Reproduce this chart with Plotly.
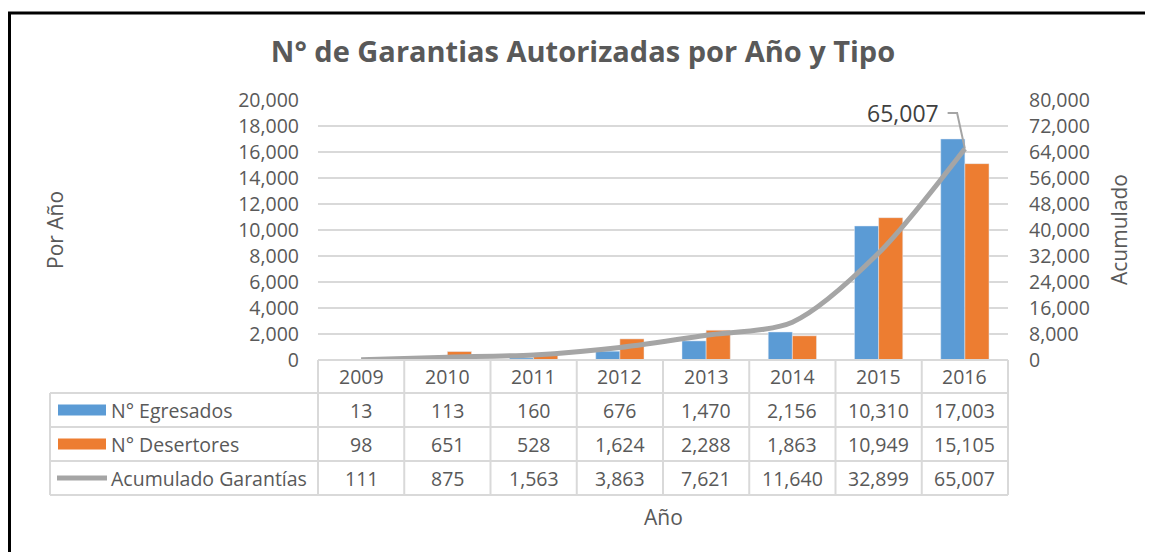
import plotly.graph_objects as go

years = ["2009", "2010", "2011", "2012", "2013", "2014", "2015", "2016"]
egresados = [13, 113, 160, 676, 1470, 2156, 10310, 17003]
desertores = [98, 651, 528, 1624, 2288, 1863, 10949, 15105]
acumulado = [111, 875, 1563, 3863, 7621, 11640, 32899, 65007]
series_names = ["N° Egresados", "N° Desertores", "Acumulado Garantías"]

BLUE = "#5B9BD5"
ORANGE = "#ED7D31"
GRAY = "#A5A5A5"
TXT = "#595959"
GRID = "#D9D9D9"
FONT = "Open Sans"

W, H = 1153, 552
OFF = 8  # page body margin
PL, PT, PW, PH = 318, 100, 690, 260  # plot area in screen pixels
L, T = PL - OFF, PT - OFF
R, B = W - L - PW, H - T - PH


def px(x):
    return (x - PL) / PW


def py(y):
    return (PT + PH - y) / PH


xs = list(range(len(years)))

fig = go.Figure()
fig.add_trace(go.Bar(x=xs, y=egresados, name=series_names[0], marker_color=BLUE))
fig.add_trace(go.Bar(x=xs, y=desertores, name=series_names[1], marker_color=ORANGE))
fig.add_trace(go.Scatter(x=xs, y=acumulado, name=series_names[2], yaxis="y2", mode="lines",
                         line=dict(color=GRAY, width=5, shape="spline", smoothing=0.8)))

shapes = []
annotations = []

row_edges = [360, 393, 427, 461, 495]
col_w = PW / len(years)
grid_line = dict(color=GRID, width=2)
TS = 19.5

for i, ye in enumerate(row_edges):
    x0 = px(318) if i == 0 else px(50)
    shapes.append(dict(type="line", xref="paper", yref="paper", x0=x0, x1=1, y0=py(ye), y1=py(ye), line=grid_line))
for j in range(len(years) + 1):
    xx = px(318 + j * col_w)
    shapes.append(dict(type="line", xref="paper", yref="paper", x0=xx, x1=xx, y0=py(360), y1=py(495), line=grid_line))
shapes.append(dict(type="line", xref="paper", yref="paper", x0=px(50), x1=px(50), y0=py(393), y1=py(495), line=grid_line))

rows = [egresados, desertores, acumulado]
row_mid = [(row_edges[k] + row_edges[k + 1]) / 2 for k in range(4)]
for j, yr in enumerate(years):
    annotations.append(dict(x=j, xref="x", y=py(row_mid[0]), yref="paper", text=yr, showarrow=False,
                            xanchor="center", yanchor="middle", font=dict(family=FONT, size=TS, color=TXT)))
    for k, vals in enumerate(rows):
        annotations.append(dict(x=j, xref="x", y=py(row_mid[k + 1]), yref="paper", text=f"{vals[j]:,}",
                                showarrow=False, xanchor="center", yanchor="middle",
                                font=dict(family=FONT, size=TS, color=TXT)))

for k, (name, col) in enumerate(zip(series_names, [BLUE, ORANGE, GRAY])):
    yc = row_mid[k + 1]
    if k < 2:
        shapes.append(dict(type="rect", xref="paper", yref="paper", x0=px(58), x1=px(106), y0=py(yc - 5.5), y1=py(yc + 5.5),
                           fillcolor=col, line=dict(width=0)))
    else:
        shapes.append(dict(type="line", xref="paper", yref="paper", x0=px(57), x1=px(107), y0=py(yc), y1=py(yc),
                           line=dict(color=col, width=5)))
    annotations.append(dict(x=px(109), xref="paper", y=py(yc), yref="paper", text=name, showarrow=False,
                            xanchor="left", yanchor="middle", font=dict(family=FONT, size=TS, color=TXT)))

# data label for last cumulative point
yl = (360 - 113) / PH * 80000
shapes.append(dict(type="path", xref="x", yref="y2",
                   path=f"M 6.80 {yl} L 6.91 {yl} L 7.0 {acumulado[-1]}",
                   line=dict(color=GRAY, width=2)))
annotations.append(dict(x=6.72, xref="x", y=yl, yref="y2", text=f"{acumulado[-1]:,}", showarrow=False,
                        xanchor="right", yanchor="middle", font=dict(family=FONT, size=23, color="#404040")))

# axis titles
annotations.append(dict(x=px(55), xref="paper", y=py(230), yref="paper", text="Por Año", textangle=-90,
                        showarrow=False, xanchor="center", yanchor="middle",
                        font=dict(family=FONT, size=21, color=TXT)))
annotations.append(dict(x=px(1119), xref="paper", y=py(230), yref="paper", text="Acumulado", textangle=-90,
                        showarrow=False, xanchor="center", yanchor="middle",
                        font=dict(family=FONT, size=21, color=TXT)))
annotations.append(dict(x=px(663), xref="paper", y=py(517), yref="paper", text="Año",
                        showarrow=False, xanchor="center", yanchor="middle",
                        font=dict(family=FONT, size=21, color=TXT)))

# outer border (left and top)
shapes.append(dict(type="line", xref="paper", yref="paper", x0=px(9.5), x1=px(9.5), y0=py(12), y1=py(570),
                   line=dict(color="black", width=3)))
shapes.append(dict(type="line", xref="paper", yref="paper", x0=px(8), x1=px(1170), y0=py(13), y1=py(13),
                   line=dict(color="black", width=3)))

fig.update_layout(
    width=W, height=H,
    margin=dict(l=L, r=R, t=T, b=B),
    paper_bgcolor="white", plot_bgcolor="white",
    barmode="group", bargap=0.44, bargroupgap=0,
    showlegend=False,
    title=dict(text="<b>N° de Garantias Autorizadas por Año y Tipo</b>",
               xref="container", x=(583 - OFF) / W, xanchor="center",
               yref="container", y=1 - (52 - OFF) / H, yanchor="middle",
               font=dict(family=FONT, size=29, color=TXT)),
    xaxis=dict(range=[-0.5, 7.5], showticklabels=False, showgrid=False, zeroline=False, fixedrange=True),
    yaxis=dict(range=[0, 20000], dtick=2000, tickformat=",", gridcolor=GRID, gridwidth=1.5, zeroline=False,
               ticklabelstandoff=18, tickfont=dict(family=FONT, size=TS, color=TXT)),
    yaxis2=dict(range=[0, 80000], dtick=8000, tickformat=",", overlaying="y", side="right", showgrid=False,
                zeroline=False, ticklabelstandoff=20, tickfont=dict(family=FONT, size=TS, color=TXT)),
    shapes=shapes,
    annotations=annotations,
)

fig.write_html("out.html")
